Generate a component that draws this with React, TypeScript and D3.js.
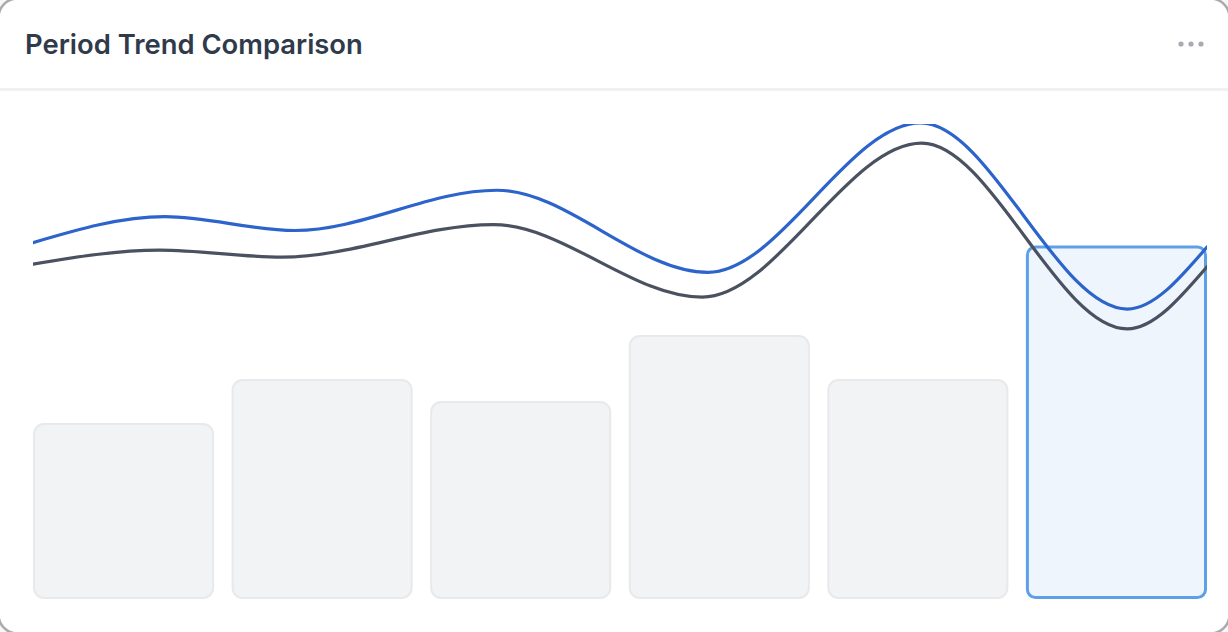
import React from "react";
import * as d3 from "d3";

const W = 1228;
const H = 632;

// Bar categories and values
const periods = ["P1", "P2", "P3", "P4", "P5", "P6"];
const barValues = [40, 50, 45, 60, 50, 80];
const highlightIndex = 5;

// Trend lines: turning points, position along the period axis (0–100) and value
const currentX = [0, 11.24, 22.3, 39.5, 57.5, 75.6, 93.2, 100];
const currentSeries = [81.0, 86.9, 83.75, 92.9, 74.25, 108.2, 65.9, 80.0];
const previousX = [0, 10.8, 21.2, 39.2, 57.0, 75.7, 93.2, 100];
const previousSeries = [76.1, 79.3, 77.7, 85.1, 68.6, 103.6, 61.4, 75.5];

const title = "Period Trend Comparison";

export default function App() {
  const left = 33;
  const right = 1207;
  const bottom = 599;
  const clipTop = 124;

  const xBand = d3.scaleBand<string>().domain(periods).range([left, right]).paddingInner(0.088).paddingOuter(0);
  const xLine = d3.scaleLinear().domain([0, 100]).range([left, right]);
  const y = d3.scaleLinear().domain([0, 100]).range([bottom, 159]);

  const makeLine = (xs: number[]) =>
    d3
      .line<number>()
      .x((_, i) => xLine(xs[i]))
      .y((d) => y(d))
      .curve(d3.curveMonotoneX);

  const bw = xBand.bandwidth();

  return (
    <svg
      width={W}
      height={H}
      style={{ position: "absolute", left: 0, top: 0, display: "block" }}
      fontFamily="Inter, 'Noto Sans', sans-serif"
    >
      <defs>
        <clipPath id="plotClip">
          <rect x={left} y={clipTop} width={right - left} height={bottom - clipTop} />
        </clipPath>
      </defs>
      <rect x={0} y={0} width={W} height={H} fill="#f7f7f8" />
      <rect x={-1.5} y={-1.5} width={W + 3} height={H + 3} rx={19} fill="#ffffff" stroke="#a9abae" strokeWidth={2.5} />

      <text x={25} y={54} fontSize={27.4} fontWeight={600} fill="#2f3a4a">
        {title}
      </text>
      {[0, 1, 2].map((i) => (
        <circle key={i} cx={1181 + i * 10} cy={44} r={2.6} fill="#a8acb2" />
      ))}
      <rect x={0} y={88} width={W} height={3} fill="#f0f1f3" />

      {periods.map((p, i) => {
        const hl = i === highlightIndex;
        const sw = hl ? 3 : 2;
        const x0 = xBand(p)!;
        const yTop = y(barValues[i]);
        return (
          <rect
            key={p}
            x={x0 + sw / 2}
            y={yTop + sw / 2 - (hl ? 1.5 : 0)}
            width={bw - sw}
            height={y(0) - yTop - sw + (hl ? 1.5 : 0)}
            rx={hl ? 8 : 10}
            fill={hl ? "#eef5fd" : "#f2f3f5"}
            stroke={hl ? "#5ea0e7" : "#e8e9eb"}
            strokeWidth={sw}
          />
        );
      })}

      <g clipPath="url(#plotClip)">
        <path d={makeLine(previousX)(previousSeries) || ""} fill="none" stroke="#4a5261" strokeWidth={3.2} strokeLinecap="round" />
        <path d={makeLine(currentX)(currentSeries) || ""} fill="none" stroke="#2c64cc" strokeWidth={3.2} strokeLinecap="round" />
      </g>
    </svg>
  );
}
